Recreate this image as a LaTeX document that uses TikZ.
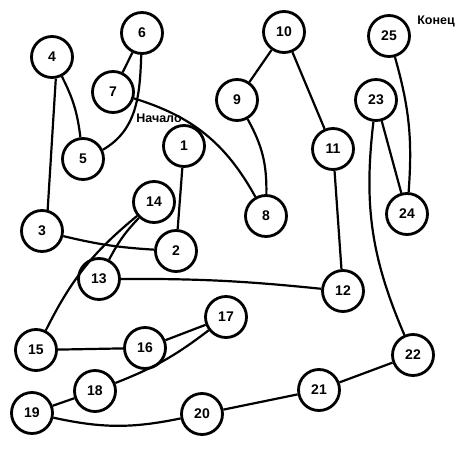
\documentclass[tikz,border=0pt]{standalone}
\usepackage{fontspec}
\setmainfont{Liberation Sans}
\usetikzlibrary{positioning}

\begin{document}
\begin{tikzpicture}[x=1pt,y=1pt,
        vertex/.style={circle,draw,line width=2.8pt,minimum size=41pt,inner sep=0pt,
                       font=\fontsize{14}{16}\selectfont\bfseries},
        edge/.style={line width=2.2pt},
        mark label/.style={font=\fontsize{12.5}{14}\selectfont\bfseries}]
        \useasboundingbox (0,0) rectangle (462,453);

        \node[vertex] (v1)  at (184,307) {1};
        \node[vertex] (v2)  at (176,202) {2};
        \node[vertex] (v3)  at (42,222)  {3};
        \node[vertex] (v4)  at (52,396)  {4};
        \node[vertex] (v5)  at (83,294)  {5};
        \node[vertex] (v6)  at (142,420) {6};
        \node[vertex] (v7)  at (113,361) {7};
        \node[vertex] (v8)  at (266,237) {8};
        \node[vertex] (v9)  at (237,353) {9};
        \node[vertex] (v10) at (284,421) {10};
        \node[vertex] (v11) at (333,304) {11};
        \node[vertex] (v12) at (343,162) {12};
        \node[vertex] (v13) at (99,174)  {13};
        \node[vertex] (v14) at (154,251) {14};
        \node[vertex] (v15) at (36,103)  {15};
        \node[vertex] (v16) at (145,105) {16};
        \node[vertex] (v17) at (226,136) {17};
        \node[vertex] (v18) at (95,62)   {18};
        \node[vertex] (v19) at (32,40)   {19};
        \node[vertex] (v20) at (202,39)  {20};
        \node[vertex] (v21) at (319,63)  {21};
        \node[vertex] (v22) at (413,98)  {22};
        \node[vertex] (v23) at (376,353) {23};
        \node[vertex] (v24) at (407,239) {24};
        \node[vertex] (v25) at (389,417) {25};

        \node[mark label] (start) at (159,335) {Начало};
        \node[mark label] (finish) at (436,432) {Конец};

        \draw[edge] (v4) to[bend left=10] (v5);
        \draw[edge] (v4.-80) -- (v3.75);
        \draw[edge] (v6) -- (v7);
        \draw[edge] (v6.-92) to[out=-92,in=30] (v5.25);
        \draw[edge] (v7) to[bend left=22] (v8);
        \draw[edge] (v10) -- (v9);
        \draw[edge] (v10) -- (v11);
        \draw[edge] (v9) to[bend left=15] (v8);
        \draw[edge] (v1) -- (v2);
        \draw[edge] (v3) to[bend right=5] (v2);
        \draw[edge] (v14) to[bend right=8] (v13);
        \draw[edge] (v14) to[bend right=12] (v15);
        \draw[edge] (v13) to[bend left=3] (v12);
        \draw[edge] (v11) -- (v12);
        \draw[edge] (v15) -- (v16);
        \draw[edge] (v16) -- (v17);
        \draw[edge] (v17) to[bend left=8] (v18);
        \draw[edge] (v18) -- (v19);
        \draw[edge] (v19) to[bend right=12] (v20);
        \draw[edge] (v20) -- (v21);
        \draw[edge] (v21) -- (v22);
        \draw[edge] (v23) to[bend right=15] (v22);
        \draw[edge] (v23) -- (v24);
        \draw[edge] (v25) to[bend left=10] (v24);
    \end{tikzpicture}
\end{document}
